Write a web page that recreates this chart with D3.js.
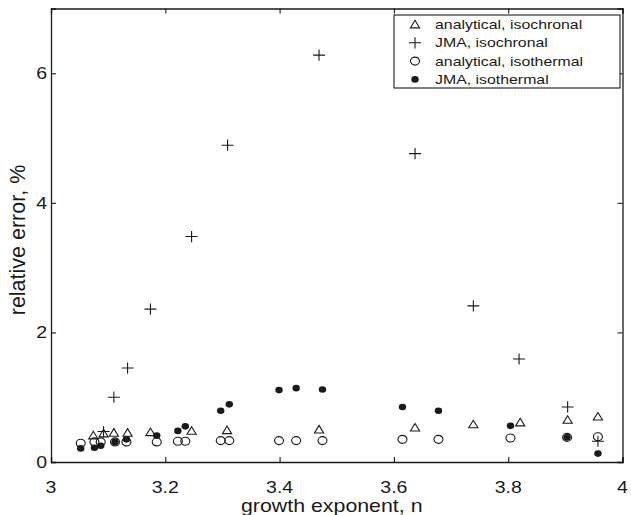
<!DOCTYPE html>
<html>
<head>
<meta charset="utf-8">
<script src="https://cdn.jsdelivr.net/npm/d3@7"></script>
<style>
  html, body { margin: 0; padding: 0; background: #fff; }
  svg { display: block; font-family: "Liberation Sans", Arial, Helvetica, sans-serif; }
</style>
</head>
<body>
<svg id="chart" width="631" height="515"></svg>
<script>
// ---- data ----
const nIsochronal = [3.074, 3.092, 3.110, 3.134, 3.174, 3.246, 3.308, 3.469, 3.637, 3.739, 3.821, 3.904, 3.957];
const analyticalIsochronal = [0.41, 0.44, 0.45, 0.45, 0.46, 0.48, 0.49, 0.50, 0.53, 0.58, 0.61, 0.65, 0.70];

const nJmaIsochronal = [3.092, 3.110, 3.134, 3.174, 3.246, 3.309, 3.469, 3.637, 3.739, 3.819, 3.904, 3.957];
const jmaIsochronal = [0.47, 1.00, 1.45, 2.36, 3.48, 4.89, 6.28, 4.76, 2.41, 1.59, 0.85, 0.32];

const nIsothermal = [3.052, 3.076, 3.087, 3.112, 3.132, 3.185, 3.222, 3.235, 3.297, 3.312, 3.399, 3.429, 3.475, 3.615, 3.678, 3.804, 3.903, 3.957];
const analyticalIsothermal = [0.29, 0.31, 0.31, 0.31, 0.31, 0.31, 0.32, 0.32, 0.33, 0.33, 0.33, 0.33, 0.33, 0.35, 0.35, 0.37, 0.38, 0.39];
const jmaIsothermal = [0.21, 0.22, 0.25, 0.31, 0.35, 0.41, 0.48, 0.55, 0.79, 0.89, 1.11, 1.14, 1.12, 0.85, 0.79, 0.56, 0.38, 0.13];

const xTicks = [3, 3.2, 3.4, 3.6, 3.8, 4];
const yTicks = [0, 2, 4, 6];
const xLabel = "growth exponent, n";
const yLabel = "relative error, %";
const legendLabels = ["analytical, isochronal", "JMA, isochronal", "analytical, isothermal", "JMA, isothermal"];

// ---- layout ----
const M = { left: 51, right: 622.5, top: 8.5, bottom: 462 };
const SX = 1.22; // horizontal stretch of glyphs in the reference
const ink = "#1a1a1a";

const svg = d3.select("#chart");
const x = d3.scaleLinear().domain([3, 4]).range([M.left, M.right]);
const y = d3.scaleLinear().domain([0, 7]).range([M.bottom, M.top]);

// markers
const markers = {
  tri: g => g.append("path").attr("d", "M0,-4.2 L4.6,3.4 L-4.6,3.4 Z")
            .attr("fill", "none").attr("stroke", ink).attr("stroke-width", 1.1),
  plus: g => g.append("path").attr("d", "M-6,0 H6 M0,-5.6 V5.6")
            .attr("fill", "none").attr("stroke", ink).attr("stroke-width", 1.1),
  circ: g => g.append("ellipse").attr("rx", 4.5).attr("ry", 4.0)
            .attr("fill", "none").attr("stroke", ink).attr("stroke-width", 1.1),
  dot: g => g.append("ellipse").attr("rx", 3.7).attr("ry", 3.3)
            .attr("fill", ink).attr("stroke", "none")
};

function drawSeries(xs, ys, kind) {
  const g = svg.append("g");
  xs.forEach((xv, i) => {
    const m = g.append("g").attr("transform", `translate(${x(xv)},${y(ys[i])})`);
    markers[kind](m);
  });
}

// axes box with inward ticks on all four sides
const axisG = svg.append("g");
axisG.append("g").attr("transform", `translate(0,${M.bottom})`)
  .call(d3.axisBottom(x).tickValues(xTicks).tickSize(-5).tickFormat(""));
axisG.append("g").attr("transform", `translate(0,${M.top})`)
  .call(d3.axisTop(x).tickValues(xTicks).tickSize(-5).tickFormat(""));
axisG.append("g").attr("transform", `translate(${M.left},0)`)
  .call(d3.axisLeft(y).tickValues(yTicks).tickSize(-5).tickFormat(""));
axisG.append("g").attr("transform", `translate(${M.right},0)`)
  .call(d3.axisRight(y).tickValues(yTicks).tickSize(-5).tickFormat(""));
axisG.selectAll("path.domain").attr("stroke", ink).attr("stroke-width", 1.3);
axisG.selectAll(".tick line").attr("stroke", ink).attr("stroke-width", 1.1);

// tick labels
svg.append("g").selectAll("text").data(xTicks).join("text")
  .attr("transform", d => `translate(${x(d)},${M.bottom + 30.5}) scale(${SX},1)`)
  .attr("text-anchor", "middle").attr("font-size", 16).attr("fill", ink)
  .text(d => d3.format("")(d));
svg.append("g").selectAll("text").data(yTicks).join("text")
  .attr("transform", d => `translate(${M.left - 4},${y(d) + 6}) scale(${SX},1)`)
  .attr("text-anchor", "end").attr("font-size", 16).attr("fill", ink)
  .text(d => d);

// axis labels
svg.append("text")
  .attr("transform", `translate(${(M.left + M.right) / 2 - 5},511.5) scale(${SX},1)`)
  .attr("text-anchor", "middle").attr("font-size", 17.5).attr("fill", ink)
  .text(xLabel);
svg.append("text")
  .attr("transform", `translate(25,240) rotate(-90)`)
  .attr("text-anchor", "middle").attr("font-size", 21.5).attr("fill", ink)
  .text(yLabel);

// data
drawSeries(nIsochronal, analyticalIsochronal, "tri");
drawSeries(nJmaIsochronal, jmaIsochronal, "plus");
drawSeries(nIsothermal, analyticalIsothermal, "circ");
drawSeries(nIsothermal, jmaIsothermal, "dot");

// legend
const lg = svg.append("g");
lg.append("rect").attr("x", 394).attr("y", 15).attr("width", 226).attr("height", 73)
  .attr("fill", "#fff").attr("stroke", ink).attr("stroke-width", 1.1);
const kinds = ["tri", "plus", "circ", "dot"];
legendLabels.forEach((lab, i) => {
  const cy = 24.5 + i * 18.3;
  const m = lg.append("g").attr("transform", `translate(415,${cy})`);
  markers[kinds[i]](m);
  lg.append("text")
    .attr("transform", `translate(435,${cy + 4.6}) scale(${SX},1)`)
    .attr("font-size", 13).attr("fill", ink).text(lab);
});
</script>
</body>
</html>
